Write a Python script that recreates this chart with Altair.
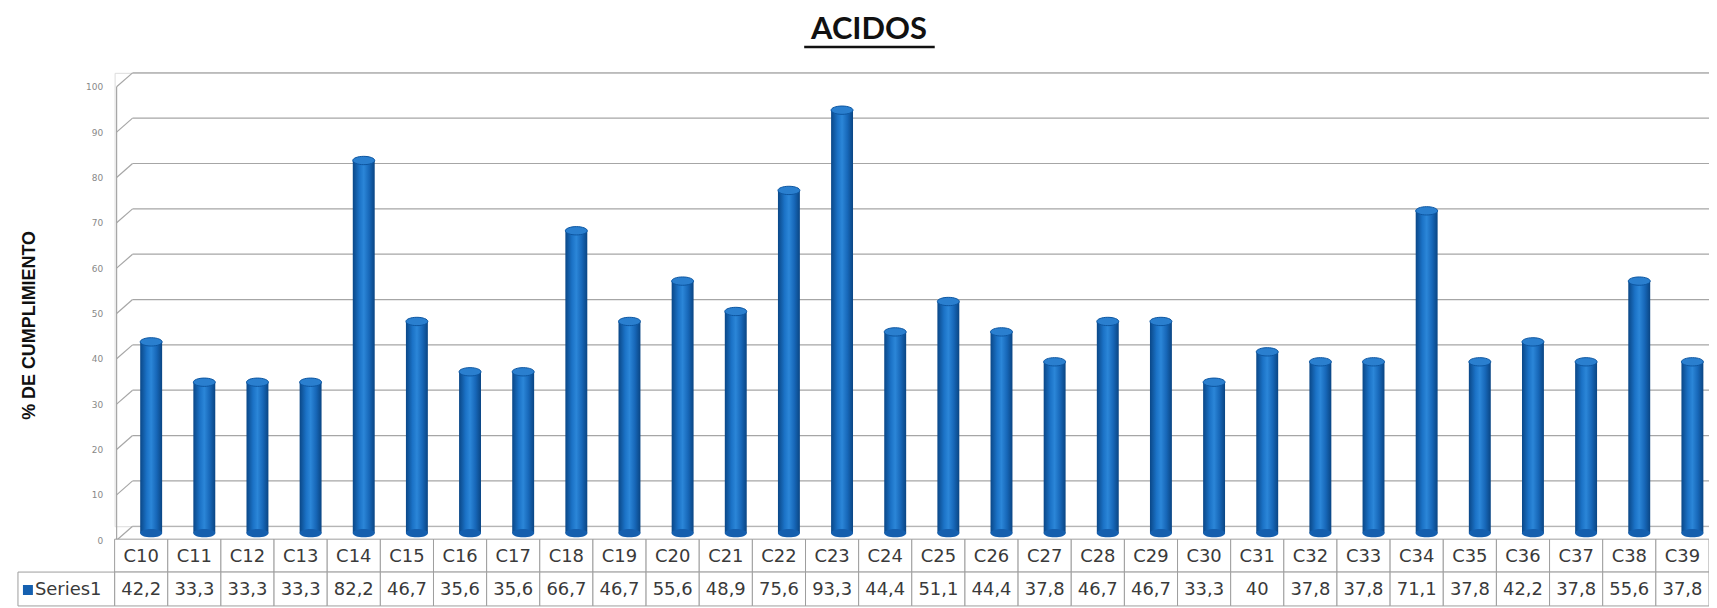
import altair as alt
import pandas as pd

categories = ["C10", "C11", "C12", "C13", "C14", "C15", "C16", "C17", "C18", "C19",
              "C20", "C21", "C22", "C23", "C24", "C25", "C26", "C27", "C28", "C29",
              "C30", "C31", "C32", "C33", "C34", "C35", "C36", "C37", "C38", "C39"]
values = [42.2, 33.3, 33.3, 33.3, 82.2, 46.7, 35.6, 35.6, 66.7, 46.7,
          55.6, 48.9, 75.6, 93.3, 44.4, 51.1, 44.4, 37.8, 46.7, 46.7,
          33.3, 40, 37.8, 37.8, 71.1, 37.8, 42.2, 37.8, 55.6, 37.8]
y_ticks = list(range(0, 101, 10))
series_name = "Series1"
title_text = "ACIDOS"
y_title = "% DE CUMPLIMIENTO"


def fmt(v):
    s = ("%g" % v)
    return s.replace(".", ",")


df = pd.DataFrame({"cat": categories, "value": values,
                   "label": [fmt(v) for v in values], "zero": [0] * len(values)})
ticks_df = pd.DataFrame({"t": y_ticks})
one = pd.DataFrame({"name": [series_name], "title": [title_text]})

W, H = 1600, 455
DX, DY = 16, 14  # depth offset of the 3D wall

x_enc = alt.X("cat:N", sort=categories, axis=None,
              scale=alt.Scale(paddingInner=0, paddingOuter=0))
y_scale = alt.Scale(domain=[0, 100], nice=False, zero=True)

# back wall gridlines
grid = alt.Chart(ticks_df).mark_rule(color="#a6a6a6", strokeWidth=1.2).encode(
    x=alt.value(DX + 2), x2=alt.value(W),
    y=alt.Y("t:Q", scale=y_scale,
            axis=alt.Axis(values=y_ticks, grid=False, domain=False, ticks=False,
                          labelOffset=DY, labelPadding=12, labelFontSize=9,
                          labelColor="#888888", labelFont="DejaVu Sans",
                          title=y_title, titleFont="Liberation Sans",
                          titleFontSize=18, titleFontWeight="bold",
                          titleColor="#111111", titleAngle=-90,
                          titleX=-85, titleY=253, titleAlign="center",
                          titleBaseline="middle")),
)
# diagonal connectors from front axis to back wall
diag = alt.Chart(ticks_df).mark_rule(color="#a6a6a6", strokeWidth=1.2,
                                      yOffset=DY, y2Offset=0).encode(
    x=alt.value(2), x2=alt.value(DX + 2),
    y=alt.Y("t:Q", scale=y_scale), y2=alt.Y2("t"),
)
# front vertical axis line
front = alt.Chart(one).mark_rule(color="#a6a6a6", strokeWidth=1.2).encode(
    x=alt.value(2), y=alt.value(DY), y2=alt.value(H + DY),
)

grad = alt.Gradient(
    gradient="linear", x1=0, x2=1, y1=0, y2=0,
    stops=[alt.GradientStop(color="#0a4787", offset=0),
           alt.GradientStop(color="#1b72c6", offset=0.3),
           alt.GradientStop(color="#2b86d8", offset=0.5),
           alt.GradientStop(color="#1767b8", offset=0.75),
           alt.GradientStop(color="#0a4583", offset=1)],
)
bars = alt.Chart(df).mark_bar(fill=grad, size=22, xOffset=10, yOffset=7,
                              y2Offset=7).encode(
    x=x_enc, y=alt.Y("value:Q", scale=y_scale), y2=alt.Y2("zero"),
)
ellipse = "M -1 0 A 1 0.38 0 1 1 1 0 A 1 0.38 0 1 1 -1 0 Z"
tops = alt.Chart(df).mark_point(shape=ellipse, size=484, filled=True,
                                fill="#2a7fcf", stroke="#0d55a0",
                                strokeWidth=1, opacity=1,
                                xOffset=10, yOffset=7).encode(
    x=x_enc, y=alt.Y("value:Q", scale=y_scale),
)
bottoms = alt.Chart(df).mark_point(shape=ellipse, size=484, filled=True,
                                   fill="#155fae", opacity=1,
                                   xOffset=10, yOffset=7).encode(
    x=x_enc, y=alt.Y("zero:Q", scale=y_scale),
)

# data table
R1, R2, R3 = H + DY - 1, H + DY + 32, H + DY + 66
cell1 = alt.Chart(df).mark_rect(fill="white", stroke="#9e9e9e", strokeWidth=1).encode(
    x=x_enc, y=alt.value(R1), y2=alt.value(R2))
cell2 = alt.Chart(df).mark_rect(fill="white", stroke="#9e9e9e", strokeWidth=1).encode(
    x=x_enc, y=alt.value(R2), y2=alt.value(R3))
cell0 = alt.Chart(one).mark_rect(fill="white", stroke="#9e9e9e", strokeWidth=1).encode(
    x=alt.value(-97), x2=alt.value(0), y=alt.value(R2), y2=alt.value(R3))
cat_text = alt.Chart(df).mark_text(font="DejaVu Sans", fontSize=18,
                                   color="#3a3a3a", baseline="middle").encode(
    x=x_enc, y=alt.value((R1 + R2) / 2 + 1), text="cat:N")
val_text = alt.Chart(df).mark_text(font="DejaVu Sans", fontSize=18,
                                   color="#3a3a3a", baseline="middle").encode(
    x=x_enc, y=alt.value((R2 + R3) / 2 + 1), text="label:N")
leg_sq = alt.Chart(one).mark_point(shape="square", size=100, filled=True,
                                   fill="#1560b0", opacity=1).encode(
    x=alt.value(-87), y=alt.value((R2 + R3) / 2 + 1))
leg_txt = alt.Chart(one).mark_text(font="DejaVu Sans", fontSize=18,
                                   color="#3a3a3a", align="left",
                                   baseline="middle").encode(
    x=alt.value(-80), y=alt.value((R2 + R3) / 2 + 1), text="name:N")

# title with underline
title = alt.Chart(one).mark_text(font="Lato", fontSize=31, fontWeight="bold",
                                 color="#111111", align="center",
                                 baseline="alphabetic").encode(
    x=alt.value(757), y=alt.value(-34), text="title:N")
underline = alt.Chart(one).mark_rule(color="#111111", strokeWidth=2.5).encode(
    x=alt.value(692), x2=alt.value(823), y=alt.value(-26))

chart = alt.layer(
    grid, diag, front, bars, bottoms, tops,
    cell1, cell2, cell0, cat_text, val_text, leg_sq, leg_txt,
    title, underline,
).properties(
    width=W, height=H,
    autosize=alt.AutoSizeParams(type="none"),
    padding={"left": 107, "top": 64, "right": 0, "bottom": 80},
).configure_view(stroke=None).configure(background="white")

chart.save("out.html", embed_options={"renderer": "svg", "actions": False})
